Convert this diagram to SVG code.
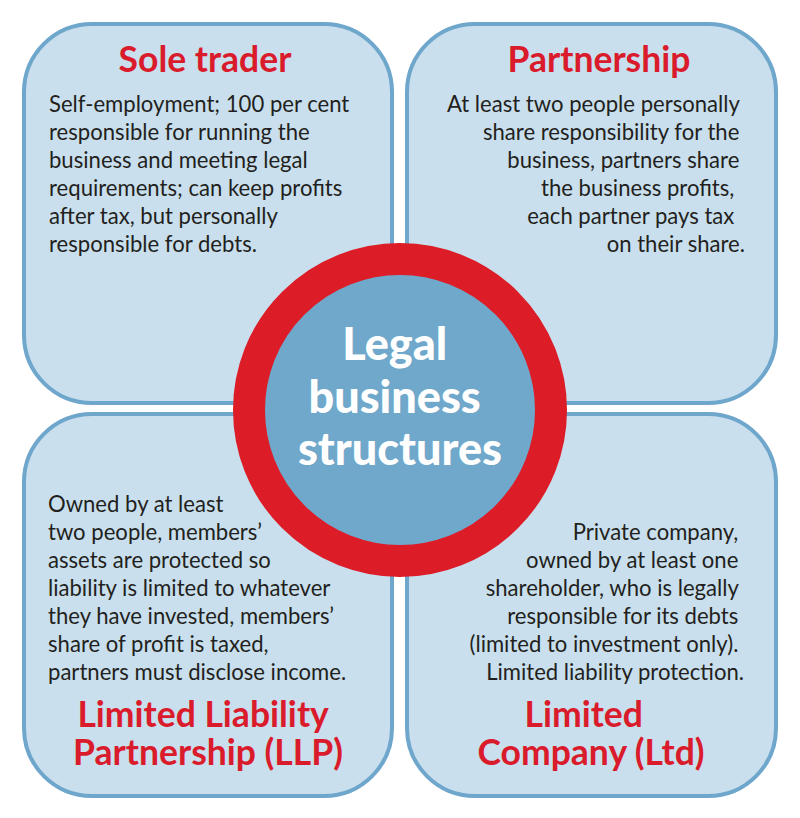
<svg xmlns="http://www.w3.org/2000/svg" width="800" height="818" viewBox="0 0 800 818">
<style>
.box{fill:#c9dfed;stroke:#6fa6cc;stroke-width:4}
.title{font-family:"Lato","Open Sans",sans-serif;font-weight:bold;font-size:35.5px;fill:#da1b2b}
.body{font-family:"Lato","Open Sans",sans-serif;font-size:22.1px;fill:#231f20}
.center{font-family:"Lato","Open Sans",sans-serif;font-weight:900;font-size:45px;fill:#ffffff}
</style>
<rect width="800" height="818" fill="#ffffff"/>
<g id="sole-trader">
<rect class="box" x="24" y="24" width="368" height="379" rx="68"/>
<text class="title" x="205" y="72" text-anchor="middle">Sole trader</text>
<text class="body" x="49">
<tspan x="49" y="112">Self-employment; 100 per cent</tspan>
<tspan x="49" y="140">responsible for running the</tspan>
<tspan x="49" y="168">business and meeting legal</tspan>
<tspan x="49" y="196">requirements; can keep profits</tspan>
<tspan x="49" y="224">after tax, but personally</tspan>
<tspan x="49" y="252">responsible for debts.</tspan>
</text>
</g>
<g id="partnership">
<rect class="box" x="407" y="24" width="369" height="379" rx="68"/>
<text class="title" x="599" y="72" text-anchor="middle">Partnership</text>
<text class="body" text-anchor="end">
<tspan x="745" y="112">At least two people personally</tspan>
<tspan x="745" y="140">share responsibility for the</tspan>
<tspan x="745" y="168">business, partners share</tspan>
<tspan x="740" y="196">the business profits,</tspan>
<tspan x="740" y="224">each partner pays tax</tspan>
<tspan x="745" y="252">on their share.</tspan>
</text>
</g>
<g id="llp">
<rect class="box" x="24" y="414" width="368" height="382" rx="68"/>
<text class="body">
<tspan x="48" y="512">Owned by at least</tspan>
<tspan x="48" y="540">two people, members’</tspan>
<tspan x="48" y="568">assets are protected so</tspan>
<tspan x="48" y="596">liability is limited to whatever</tspan>
<tspan x="48" y="624">they have invested, members’</tspan>
<tspan x="48" y="652">share of profit is taxed,</tspan>
<tspan x="48" y="680">partners must disclose income.</tspan>
</text>
<text class="title" text-anchor="middle">
<tspan x="207" y="727">Limited Liability</tspan>
<tspan x="208" y="765">Partnership (LLP)</tspan>
</text>
</g>
<g id="ltd">
<rect class="box" x="407" y="414" width="369" height="382" rx="68"/>
<text class="body" text-anchor="end">
<tspan x="744" y="540">Private company,</tspan>
<tspan x="744" y="568">owned by at least one</tspan>
<tspan x="744" y="596">shareholder, who is legally</tspan>
<tspan x="744" y="624">responsible for its debts</tspan>
<tspan x="744" y="652">(limited to investment only).</tspan>
<tspan x="744" y="680">Limited liability protection.</tspan>
</text>
<text class="title" text-anchor="middle">
<tspan x="588" y="727">Limited</tspan>
<tspan x="591" y="765">Company (Ltd)</tspan>
</text>
</g>
<g id="center">
<circle cx="400" cy="410" r="151" fill="#6fa8cb" stroke="#dc1c26" stroke-width="32"/>
<text class="center" text-anchor="middle">
<tspan x="400" y="360">Legal</tspan>
<tspan x="400" y="413">business</tspan>
<tspan x="400" y="465">structures</tspan>
</text>
</g>
<g id="connectors"/>
</svg>
